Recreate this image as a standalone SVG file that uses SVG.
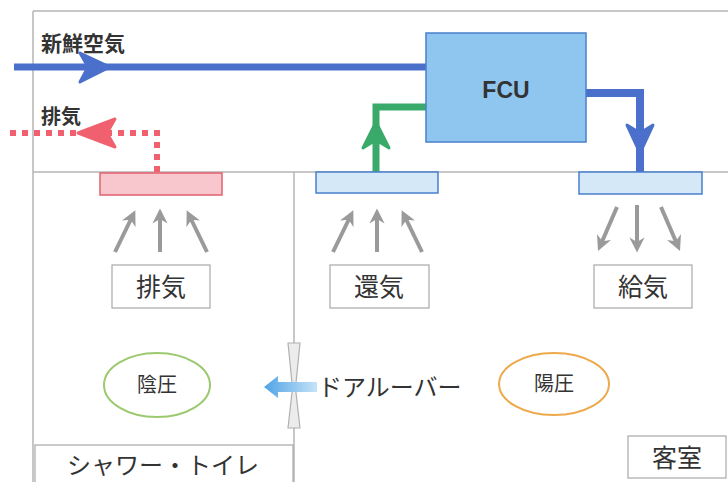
<svg xmlns="http://www.w3.org/2000/svg" width="728" height="482" viewBox="0 0 728 482">
<style>
.frame{stroke:#b5b5b5;stroke-width:1.5;fill:none}
.jp{font-family:"Noto Sans CJK JP","Noto Sans",sans-serif;fill:#333}
.lbl{fill:#fff;stroke:#a8a8a8;stroke-width:1.2}
.gray{stroke:#9a9a9a;stroke-width:4;fill:none;marker-end:url(#g)}
.duct{fill:#d4e8f8;stroke:#4a80cc;stroke-width:1.5}
</style>
<defs>
<marker id="g" viewBox="0 0 10 10" refX="5" refY="5" markerWidth="3.8" markerHeight="3.8" orient="auto">
<path d="M0,0 L10,5 L0,10 L3,5 Z" fill="#9a9a9a"/>
</marker>
<linearGradient id="bl" x1="0" x2="1" y1="0" y2="0">
<stop offset="0" stop-color="#4fa3e6"/>
<stop offset="1" stop-color="#c6e3f8"/>
</linearGradient>
</defs>
<rect width="728" height="482" fill="#fff"/>
<g id="frame">
<line class="frame" x1="33" y1="11" x2="728" y2="11"/>
<line class="frame" x1="33" y1="11" x2="33" y2="482"/>
<line class="frame" x1="33" y1="172" x2="728" y2="172"/>
<line class="frame" x1="294" y1="172" x2="294" y2="343"/>
<line class="frame" x1="294" y1="428" x2="294" y2="482"/>
</g>
<g id="connectors">
<line x1="14" y1="67" x2="426" y2="67" stroke="#4a70cc" stroke-width="7"/>
<path d="M80,53 L110,67 L80,82 L88,67 Z" fill="#4a70cc" stroke="#4a70cc" stroke-width="3" stroke-linejoin="round"/>
<path d="M586,93 L640,93 L640,172" fill="none" stroke="#4a70cc" stroke-width="8"/>
<path d="M627,125 L640,153 L653,125 L640,133 Z" fill="#4a70cc" stroke="#4a70cc" stroke-width="3" stroke-linejoin="round"/>
<path d="M426,107 L376,107 L376,172" fill="none" stroke="#3aaa6a" stroke-width="7"/>
<path d="M363,148 L376,122 L389,148 L376,140 Z" fill="#3aaa6a" stroke="#3aaa6a" stroke-width="3" stroke-linejoin="round"/>
<path d="M157,172 L157,133 L10,133" fill="none" stroke="#f0606e" stroke-width="6" stroke-dasharray="6,6"/>
<path d="M115,119 L78,133 L115,147 L107,133 Z" fill="#f0606e" stroke="#f0606e" stroke-width="3" stroke-linejoin="round"/>
<line class="gray" x1="115" y1="252" x2="132" y2="217"/>
<line class="gray" x1="160" y1="252" x2="160" y2="216"/>
<line class="gray" x1="207" y1="252" x2="190" y2="217"/>
<line class="gray" x1="333" y1="252" x2="350" y2="217"/>
<line class="gray" x1="377" y1="252" x2="377" y2="216"/>
<line class="gray" x1="422" y1="252" x2="405" y2="217"/>
<line class="gray" x1="617" y1="207" x2="601" y2="244"/>
<line class="gray" x1="637" y1="205" x2="637" y2="245"/>
<line class="gray" x1="661" y1="207" x2="677" y2="244"/>
</g>
<g id="fresh-air-label"><text class="jp" x="41" y="51" font-size="21" font-weight="bold">新鮮空気</text></g>
<g id="exhaust-label"><text class="jp" x="41" y="124" font-size="20" font-weight="bold">排気</text></g>
<g id="fcu">
<rect x="426" y="33" width="160" height="109" fill="#8ec6ef" stroke="#4a80cc" stroke-width="1.5"/>
<text x="506" y="98" text-anchor="middle" font-family="Liberation Sans,Arial,sans-serif" font-weight="bold" font-size="23" fill="#333">FCU</text>
</g>
<g id="exhaust-duct"><rect x="100" y="173" width="122" height="22" fill="#f8c6cd" stroke="#e2606e" stroke-width="1.5"/></g>
<g id="return-duct"><rect class="duct" x="316" y="172" width="122" height="21"/></g>
<g id="supply-duct"><rect class="duct" x="579" y="172" width="123" height="22"/></g>
<g id="exhaust-box"><rect class="lbl" x="112" y="265" width="98" height="43"/><text class="jp" x="161" y="296" font-size="25" text-anchor="middle">排気</text></g>
<g id="return-box"><rect class="lbl" x="330" y="265" width="99" height="43"/><text class="jp" x="379" y="296" font-size="25" text-anchor="middle">還気</text></g>
<g id="supply-box"><rect class="lbl" x="594" y="265" width="98" height="43"/><text class="jp" x="643" y="296" font-size="25" text-anchor="middle">給気</text></g>
<g id="negative"><ellipse cx="157" cy="385" rx="53" ry="32" fill="none" stroke="#9cc96e" stroke-width="2"/><text class="jp" x="157" y="392" font-size="20" text-anchor="middle">陰圧</text></g>
<g id="positive"><ellipse cx="554" cy="384" rx="55" ry="31" fill="none" stroke="#eda94a" stroke-width="2"/><text class="jp" x="554" y="391" font-size="20" text-anchor="middle">陽圧</text></g>
<g id="door-louver">
<path d="M288,343 L300,343 L295.5,388 L300,428 L288,428 L292.5,388 Z" fill="#ececec" stroke="#b0b0b0" stroke-width="1.2"/>
<path d="M317,382 L278,382 L278,376 L264,387 L278,398 L278,392 L317,392 Z" fill="url(#bl)"/>
<text class="jp" x="318" y="396" font-size="24">ドアルーバー</text>
</g>
<g id="shower-box"><rect class="lbl" x="35" y="445" width="258" height="40"/><text class="jp" x="163" y="474" font-size="24" text-anchor="middle">シャワー・トイレ</text></g>
<g id="room-box"><rect class="lbl" x="628" y="436" width="98" height="42"/><text class="jp" x="677" y="467" font-size="25" text-anchor="middle">客室</text></g>
</svg>
